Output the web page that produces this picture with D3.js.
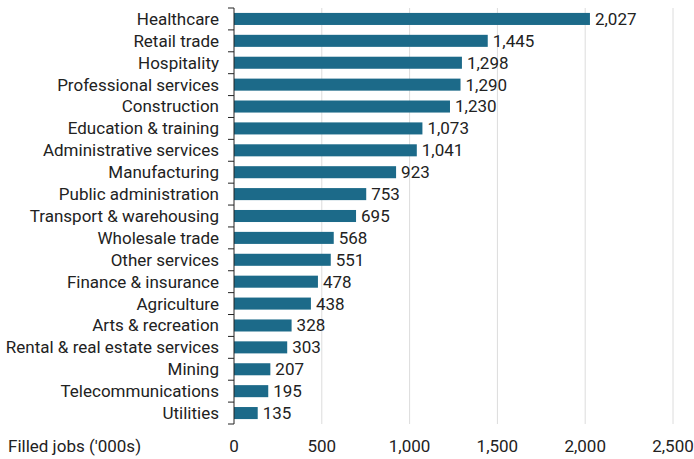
<!DOCTYPE html>
<html>
<head>
<meta charset="utf-8">
<script src="https://cdn.jsdelivr.net/npm/d3@7"></script>
<style>
  body { margin: 0; background: #fff; }
  text { font-family: Roboto, sans-serif; fill: #222; }
</style>
</head>
<body>
<div id="chart"></div>
<script>
// industries, top to bottom
const industries = [
    "Healthcare", "Retail trade", "Hospitality", "Professional services",
    "Construction", "Education & training", "Administrative services",
    "Manufacturing", "Public administration", "Transport & warehousing",
    "Wholesale trade", "Other services", "Finance & insurance", "Agriculture",
    "Arts & recreation", "Rental & real estate services", "Mining",
    "Telecommunications", "Utilities"
];
const filledJobs = [2027, 1445, 1298, 1290, 1230, 1073, 1041, 923, 753, 695,
    568, 551, 478, 438, 328, 303, 207, 195, 135];
const xTicks = [0, 500, 1000, 1500, 2000, 2500];
const axisTitle = "Filled jobs ('000s)";

const width = 694, height = 459;
const margin = { top: 8, right: 21, bottom: 35, left: 234 };
const fontSize = "17px";

const data = industries.map((d, i) => ({ name: d, value: filledJobs[i] }));

const svg = d3.select("#chart").append("svg")
    .attr("width", width)
    .attr("height", height);

const x = d3.scaleLinear()
    .domain([0, 2500])
    .range([margin.left, width - margin.right]);

const y = d3.scaleBand()
    .domain(industries)
    .range([margin.top, height - margin.bottom])
    .paddingInner(0.45)
    .paddingOuter(0.225);

const fmt = d3.format(",");

// gridlines
svg.append("g")
    .selectAll("line")
    .data(xTicks.slice(1))
    .enter()
    .append("line")
    .attr("x1", d => x(d))
    .attr("x2", d => x(d))
    .attr("y1", margin.top)
    .attr("y2", height - margin.bottom)
    .attr("stroke", "#dcdcdc")
    .attr("stroke-width", 1);

// bars
svg.selectAll(".bar")
    .data(data)
    .enter()
    .append("rect")
    .attr("class", "bar")
    .attr("x", x(0))
    .attr("y", d => y(d.name))
    .attr("width", d => x(d.value) - x(0))
    .attr("height", y.bandwidth())
    .attr("fill", "#1c6a89");

// value labels
svg.selectAll(".label")
    .data(data)
    .enter()
    .append("text")
    .attr("class", "label")
    .attr("x", d => x(d.value) + 5)
    .attr("y", d => y(d.name) + y.bandwidth() / 2)
    .attr("dy", "0.35em")
    .style("font-size", fontSize)
    .text(d => fmt(d.value));

// y axis with ticks on category boundaries
const yAxis = svg.append("g");
const step = y.step();
const bounds = d3.range(industries.length + 1).map(i => margin.top + i * step);
yAxis.append("line")
    .attr("x1", x(0)).attr("x2", x(0))
    .attr("y1", margin.top).attr("y2", height - margin.bottom)
    .attr("stroke", "#222");
yAxis.selectAll(".ytick")
    .data(bounds)
    .enter()
    .append("line")
    .attr("x1", x(0) - 6).attr("x2", x(0))
    .attr("y1", d => d).attr("y2", d => d)
    .attr("stroke", "#222");
yAxis.selectAll(".ylab")
    .data(industries)
    .enter()
    .append("text")
    .attr("x", x(0) - 15)
    .attr("y", d => y(d) + y.bandwidth() / 2)
    .attr("dy", "0.35em")
    .attr("text-anchor", "end")
    .style("font-size", fontSize)
    .text(d => d);

// x tick labels
svg.selectAll(".xlab")
    .data(xTicks)
    .enter()
    .append("text")
    .attr("x", d => x(d))
    .attr("y", 446)
    .attr("dy", "0.35em")
    .attr("text-anchor", "middle")
    .style("font-size", fontSize)
    .text(d => fmt(d));

svg.append("text")
    .attr("x", 8)
    .attr("y", 446)
    .attr("dy", "0.35em")
    .style("font-size", fontSize)
    .text(axisTitle);
</script>
</body>
</html>
